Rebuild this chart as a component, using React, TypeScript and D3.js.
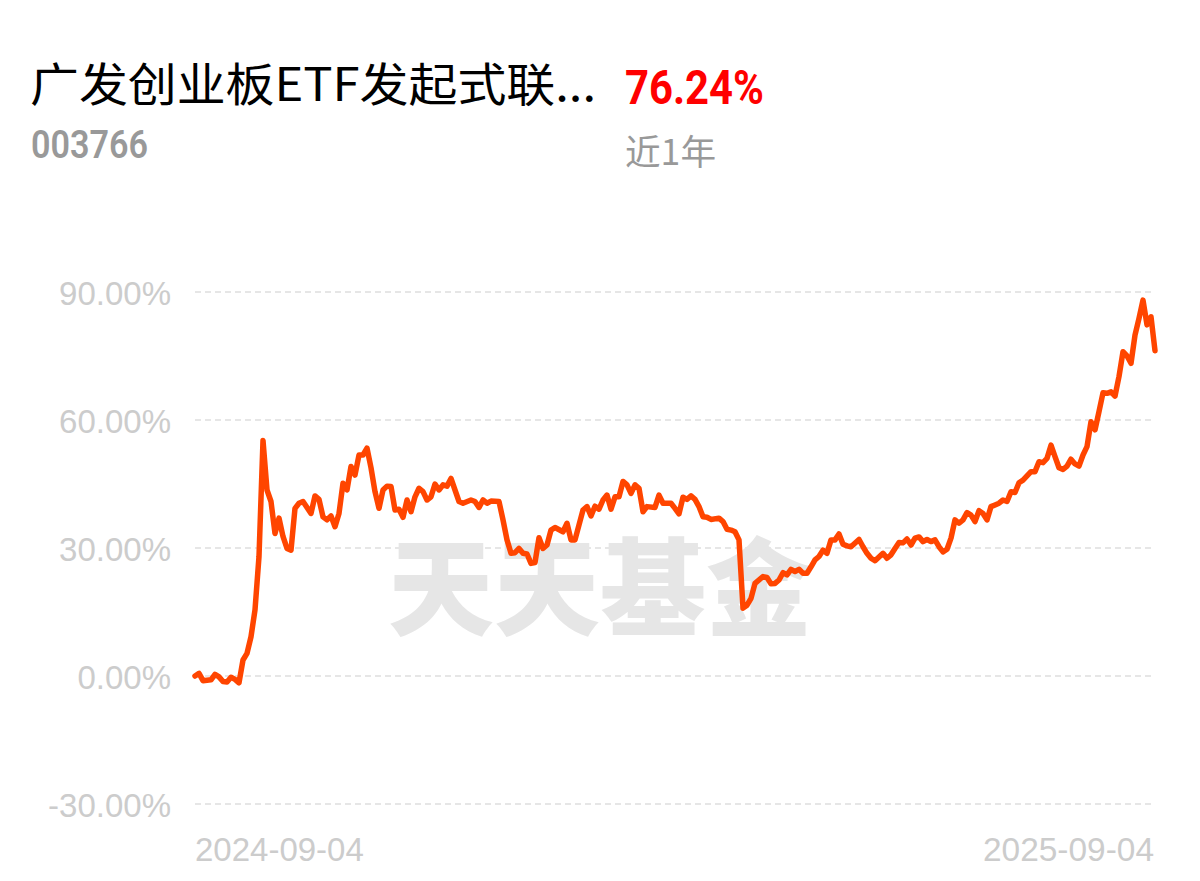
import React from "react";
import * as d3 from "d3";

const title = "广发创业板ETF发起式联...";
const code = "003766";
const returnText = "76.24%";
const periodText = "近1年";
const watermark = "天天基金";
const yTicks = [-30, 0, 30, 60, 90];
const xLabels = ["2024-09-04", "2025-09-04"];
const totalDays = 240;

// trading-day index since 2024-09-04
const dayIdx = [
  0, 1, 2, 4, 5, 6, 7, 8, 9, 10, 11, 12, 13, 14, 15, 16, 17, 18, 19, 20,
  21, 22, 23, 24, 25, 26, 27, 29, 30, 31, 32, 33, 34, 35, 36, 37, 38, 39, 40, 41,
  42, 43, 44, 45, 46, 47, 48, 49, 50, 51, 52, 53, 54, 55, 56, 57, 58, 59, 60, 61,
  62, 63, 64, 65, 66, 67, 69, 70, 71, 72, 73, 74, 76, 77, 78, 79, 80, 81, 82, 83,
  84, 85, 86, 87, 88, 89, 90, 92, 93, 94, 95, 97, 98, 99, 100, 101, 102, 103, 104, 105,
  106, 107, 108, 109, 110, 111, 112, 113, 115, 116, 117, 118, 119, 120, 121, 122, 123, 124, 125, 126,
  127, 128, 129, 131, 132, 133, 134, 135, 136, 137, 138, 139, 140, 142, 143, 144, 145, 146, 147, 148,
  149, 150, 151, 152, 153, 154, 155, 156, 157, 158, 159, 160, 161, 162, 163, 164, 166, 167, 168, 169,
  170, 172, 173, 174, 175, 176, 177, 178, 179, 180, 181, 182, 183, 184, 185, 186, 187, 188, 189, 190,
  191, 192, 193, 194, 195, 196, 197, 198, 199, 200, 201, 202, 203, 204, 205, 206, 207, 208, 209, 210,
  211, 212, 213, 214, 215, 216, 217, 218, 219, 220, 221, 222, 223, 224, 225, 226, 227, 228, 229, 230,
  231, 232, 233, 234, 235, 236, 237, 238, 239, 240,
];

// cumulative return, %
const returns = [
  0, 0.6, -1.1, -0.9, 0.4, -0.2, -1.3, -1.4, -0.3, -0.8, -1.6, 3.75, 5.3, 9.2, 15.5, 28, 55.2, 43.6, 40.9, 33.4,
  37, 32.7, 29.9, 29.5, 39.3, 40.5, 40.9, 38.1, 42.2, 41.4, 37.3, 36.6, 37.5, 35, 38.1, 45.2, 43.6, 49.1, 47.1, 51.8,
  51.8, 53.4, 48.8, 43.2, 39.3, 43.6, 44.5, 44.4, 38.9, 39.1, 37.2, 41.25, 38.5, 42, 44, 43.2, 41.25, 42, 45, 43.6,
  44.8, 44.5, 46.3, 43.6, 40.9, 40.5, 41.25, 40.9, 39.5, 41.25, 40.5, 41, 40.9, 36.6, 31.9, 28.75, 28.9, 29.9, 28.75, 28.6,
  26.4, 26.6, 32.4, 29.9, 30.7, 34.2, 34.8, 33.8, 35.8, 31.9, 31.9, 38.9, 39.7, 37.5, 39.8, 39.1, 41.25, 42.4, 39.1, 42,
  42, 45.6, 44.8, 42.8, 44.8, 44, 38.5, 39.7, 39.5, 42.4, 40.5, 40.5, 40.5, 39.3, 38, 41.9, 41.4, 42.2, 41.4, 39.7,
  37.3, 37.2, 36.7, 37, 36.2, 34.4, 34.2, 33.8, 31.9, 15.9, 16.6, 18.2, 21.7, 23.3, 23.1, 21.6, 21.7, 22.5, 24.2, 23.7,
  25, 24.5, 25, 24.1, 24.1, 25.6, 27.2, 28, 29.5, 28.75, 31.9, 31.9, 33.3, 30.9, 30.5, 30.3, 32, 30.3, 28.75, 27.6,
  27, 28.75, 27.6, 28.4, 29.9, 31.3, 31.2, 32.1, 30.7, 32.3, 32.6, 31.5, 32, 31.5, 31.9, 30.3, 29.1, 29.7, 32.3, 36.6,
  35.8, 36.6, 38.3, 37.7, 36.2, 38.75, 38.1, 36.6, 39.7, 40.1, 40.5, 41.25, 40.9, 43.2, 43, 45.3, 45.9, 46.9, 47.9, 47.9,
  50.2, 50, 51, 54.1, 51.4, 48.8, 48.4, 49.2, 50.8, 49.7, 49.2, 51.8, 53.75, 59.6, 57.7, 61.95, 66.4, 66.25, 66.6, 65.6,
  70.2, 76, 75, 73.3, 79.9, 83.8, 88.1, 82.3, 84.2, 76.24,
];

const W = 1200;
const H = 881;

export default function App() {
  const x = d3.scaleLinear().domain([0, totalDays]).range([195, 1155]);
  const y = d3.scaleLinear().domain([-30, 90]).range([804, 292]);
  const pts: [number, number][] = dayIdx.map((d, i) => [d, returns[i]]);
  const line = d3
    .line<[number, number]>()
    .x((d) => x(d[0]))
    .y((d) => y(d[1]));

  return (
    <svg
      width={W}
      height={H}
      viewBox={`0 0 ${W} ${H}`}
      style={{ position: "absolute", left: 0, top: 0, background: "#fff" }}
    >
      <rect x={0} y={0} width={W} height={H} fill="#fff" />
      <text
        x={30}
        y={101}
        fontFamily="'Noto Sans CJK SC', sans-serif"
        fontSize={46}
        fill="#000"
        textLength={566}
        lengthAdjust="spacingAndGlyphs"
      >
        {title}
      </text>
      <text
        x={625}
        y={104}
        fontFamily="Roboto, 'Noto Sans', sans-serif"
        fontWeight="bold"
        fontSize={48}
        fill="#ff0000"
        textLength={139}
        lengthAdjust="spacingAndGlyphs"
      >
        {returnText}
      </text>
      <text
        x={31}
        y={158}
        fontFamily="Roboto, 'Noto Sans', sans-serif"
        fontWeight={600}
        fontSize={38}
        fill="#999"
        textLength={117}
        lengthAdjust="spacingAndGlyphs"
      >
        {code}
      </text>
      <text
        x={625}
        y={165}
        fontFamily="'Noto Sans CJK SC', sans-serif"
        fontSize={35}
        fill="#999"
        textLength={91}
        lengthAdjust="spacingAndGlyphs"
      >
        {periodText}
      </text>

      <text
        x={600}
        y={627}
        textAnchor="middle"
        fontFamily="'Noto Sans CJK SC', sans-serif"
        fontWeight={900}
        fontSize={106}
        fill="#e6e6e6"
        textLength={424}
        lengthAdjust="spacingAndGlyphs"
      >
        {watermark}
      </text>

      {yTicks.map((t) => (
        <g key={t}>
          <line
            x1={195}
            x2={1152}
            y1={y(t)}
            y2={y(t)}
            stroke="#e6e6e6"
            strokeWidth={2}
            strokeDasharray="6 4"
          />
          <text
            x={171}
            y={y(t) + 13}
            textAnchor="end"
            fontFamily="'Liberation Sans', Arial, sans-serif"
            fontSize={33}
            fill="#cccccc"
          >
            {`${t.toFixed(2)}%`}
          </text>
        </g>
      ))}

      <text
        x={195}
        y={861}
        fontFamily="'Liberation Sans', Arial, sans-serif"
        fontSize={33}
        fill="#cccccc"
      >
        {xLabels[0]}
      </text>
      <text
        x={1154}
        y={861}
        textAnchor="end"
        fontFamily="'Liberation Sans', Arial, sans-serif"
        fontSize={33}
        fill="#cccccc"
        textLength={171}
        lengthAdjust="spacingAndGlyphs"
      >
        {xLabels[1]}
      </text>

      <path
        d={line(pts) || ""}
        fill="none"
        stroke="#ff4500"
        strokeWidth={5.5}
        strokeLinejoin="round"
        strokeLinecap="round"
      />
    </svg>
  );
}
